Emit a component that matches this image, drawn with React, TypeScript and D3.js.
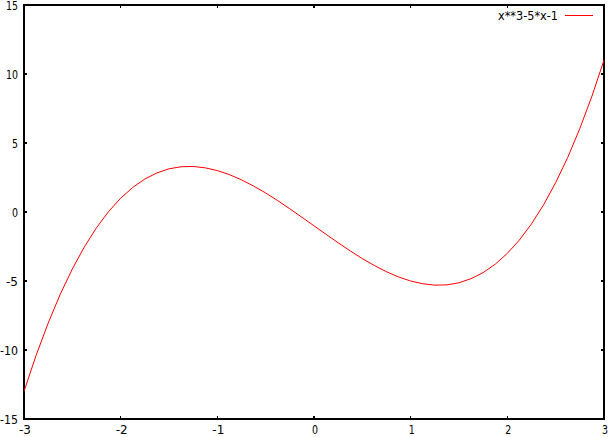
import React, { useEffect, useRef } from "react";
import * as d3 from "d3";

const xValues = [
  -3, -2.875, -2.75, -2.625, -2.5, -2.375, -2.25, -2.125, -2, -1.875, -1.75,
  -1.625, -1.5, -1.375, -1.25, -1.125, -1, -0.875, -0.75, -0.625, -0.5,
  -0.375, -0.25, -0.125, 0, 0.125, 0.25, 0.375, 0.5, 0.625, 0.75, 0.875, 1,
  1.125, 1.25, 1.375, 1.5, 1.625, 1.75, 1.875, 2, 2.125, 2.25, 2.375, 2.5,
  2.625, 2.75, 2.875, 3,
];
const yValues = [
  -13, -10.39, -8.05, -5.96, -4.13, -2.52, -1.14, 0.03, 1, 1.78, 2.39,
  2.83, 3.13, 3.28, 3.3, 3.2, 3, 2.71, 2.33, 1.88, 1.38,
  0.82, 0.23, -0.38, -1, -1.62, -2.23, -2.82, -3.38, -3.88, -4.33, -4.71, -5,
  -5.2, -5.3, -5.28, -5.13, -4.83, -4.39, -3.78, -3, -2.03, -0.86, 0.52, 2.13,
  3.96, 6.05, 8.39, 11,
];
const xTicks = [-3, -2, -1, 0, 1, 2, 3];
const yTicks = [-15, -10, -5, 0, 5, 10, 15];
const legendLabel = "x**3-5*x-1";

const W = 610, H = 437;
const CHAR_W = 6; // gnuplot's narrow fixed font

const App = () => {
  const svgRef = useRef<SVGSVGElement>(null);

  useEffect(() => {
    const svg = d3.select(svgRef.current);
    svg.selectAll("*").remove();

    const left = 24, right = 604, top = 5, bottom = 419;
    const x = d3.scaleLinear().domain([-3, 3]).range([left, right]);
    const y = d3.scaleLinear().domain([-15, 15]).range([bottom, top]);
    const font = "'DejaVu Sans', sans-serif";

    const label = (sel, s) =>
      sel
        .style("font-family", font)
        .style("font-size", "12px")
        .attr("textLength", String(s).length * CHAR_W)
        .attr("lengthAdjust", "spacingAndGlyphs")
        .text(s);

    const g = svg.append("g").attr("shape-rendering", "crispEdges");

    // ticks, mirrored on all four sides
    g.selectAll("line.xt")
      .data(xTicks)
      .join("line")
      .attr("x1", d => x(d)).attr("x2", d => x(d))
      .attr("y1", bottom).attr("y2", bottom - 3)
      .attr("stroke", "#000").attr("stroke-width", 1.5);
    g.selectAll("line.xt2")
      .data(xTicks)
      .join("line")
      .attr("x1", d => x(d)).attr("x2", d => x(d))
      .attr("y1", top).attr("y2", top + 3)
      .attr("stroke", "#000").attr("stroke-width", 1.5);
    g.selectAll("line.yt")
      .data(yTicks)
      .join("line")
      .attr("x1", left).attr("x2", left + 3)
      .attr("y1", d => y(d)).attr("y2", d => y(d))
      .attr("stroke", "#000").attr("stroke-width", 1.5);
    g.selectAll("line.yt2")
      .data(yTicks)
      .join("line")
      .attr("x1", right).attr("x2", right - 3)
      .attr("y1", d => y(d)).attr("y2", d => y(d))
      .attr("stroke", "#000").attr("stroke-width", 1.5);

    // frame
    g.append("rect")
      .attr("x", left).attr("y", top)
      .attr("width", right - left).attr("height", bottom - top)
      .attr("fill", "none").attr("stroke", "#000").attr("stroke-width", 2);

    // tick labels
    svg.append("g").selectAll("text")
      .data(xTicks)
      .join("text")
      .attr("x", d => x(d) + 1)
      .attr("y", 434)
      .attr("text-anchor", "middle")
      .each(function (d) { label(d3.select(this), d); });
    svg.append("g").selectAll("text")
      .data(yTicks)
      .join("text")
      .attr("x", 18)
      .attr("y", d => y(d) + 4.5)
      .attr("text-anchor", "end")
      .each(function (d) { label(d3.select(this), d); });

    // curve
    const line = d3.line<number>()
      .x((_, i) => x(xValues[i]))
      .y(d => y(d));
    svg.append("path")
      .datum(yValues)
      .attr("d", line)
      .attr("fill", "none")
      .attr("stroke", "#ff0000")
      .attr("stroke-width", 1);

    // legend
    label(
      svg.append("text").attr("x", 558).attr("y", 20).attr("text-anchor", "end"),
      legendLabel
    );
    svg.append("line")
      .attr("x1", 565).attr("x2", 593)
      .attr("y1", 15.5).attr("y2", 15.5)
      .attr("stroke", "#ff0000").attr("stroke-width", 1);
  }, []);

  return (
    <svg
      ref={svgRef}
      width={W}
      height={H}
      style={{ position: "absolute", left: 0, top: 0, background: "#fff" }}
    ></svg>
  );
};

export default App;
